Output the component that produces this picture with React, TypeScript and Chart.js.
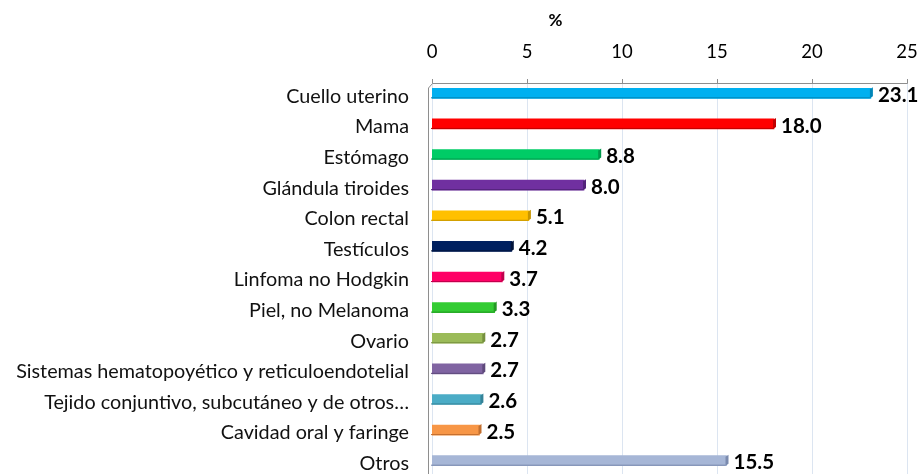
import React, { useEffect, useRef } from "react";
import { Chart, registerables } from "chart.js";

Chart.register(...registerables);

const categories = [
  "Cuello uterino",
  "Mama",
  "Estómago",
  "Glándula tiroides",
  "Colon rectal",
  "Testículos",
  "Linfoma no Hodgkin",
  "Piel, no Melanoma",
  "Ovario",
  "Sistemas hematopoyético y reticuloendotelial",
  "Tejido conjuntivo, subcutáneo y de otros…",
  "Cavidad oral y faringe",
  "Otros",
];

const values = [23.1, 18.0, 8.8, 8.0, 5.1, 4.2, 3.7, 3.3, 2.7, 2.7, 2.6, 2.5, 15.5];

const barColors = [
  "#00B0F0",
  "#FF0000",
  "#00CC66",
  "#7030A0",
  "#FFC000",
  "#002060",
  "#FF0066",
  "#33CC33",
  "#9BBB59",
  "#8064A2",
  "#4BACC6",
  "#F79646",
  "#A6B6D6",
];

const capColors = [
  "#0086B8",
  "#C00000",
  "#00994C",
  "#52237A",
  "#C79600",
  "#00133A",
  "#C0004C",
  "#249924",
  "#76903F",
  "#5F4A7C",
  "#358398",
  "#C26E2E",
  "#7A8AAE",
];

const xMin = 0;
const xMax = 25;
const xStep = 5;
const axisTitle = "%";

const FONT = "Lato, 'Open Sans', sans-serif";

const decorPlugin = {
  id: "decor",
  beforeDatasetsDraw(chart: any) {
    const { ctx, chartArea } = chart;
    const xs = chart.scales.x;
    const axisY = chartArea.top + 5;
    ctx.save();
    // gridlines
    ctx.strokeStyle = "#DCE5F1";
    ctx.lineWidth = 1;
    for (let v = xMin; v <= xMax; v += xStep) {
      const px = Math.round(xs.getPixelForValue(v)) + 0.5;
      ctx.beginPath();
      ctx.moveTo(px, axisY);
      ctx.lineTo(px, chartArea.bottom);
      ctx.stroke();
    }
    // axis line + ticks
    ctx.strokeStyle = "#8E8E8E";
    ctx.beginPath();
    const x0 = Math.round(xs.getPixelForValue(xMin)) + 0.5;
    const x1 = Math.round(xs.getPixelForValue(xMax)) + 0.5;
    ctx.moveTo(x0, axisY + 0.5);
    ctx.lineTo(x1, axisY + 0.5);
    for (let v = xMin; v <= xMax; v += xStep) {
      const px = Math.round(xs.getPixelForValue(v)) + 0.5;
      ctx.moveTo(px, axisY - 4);
      ctx.lineTo(px, axisY + 0.5);
    }
    // left wall
    const lx = x0 - 4;
    ctx.moveTo(x0, axisY + 0.5);
    ctx.lineTo(lx, axisY + 5);
    ctx.lineTo(lx, chartArea.bottom);
    ctx.stroke();
    ctx.restore();
  },
  afterDatasetsDraw(chart: any) {
    const { ctx } = chart;
    const meta = chart.getDatasetMeta(0);
    ctx.save();
    meta.data.forEach((bar: any, i: number) => {
      const h = bar.height;
      const top = bar.y - h / 2;
      const bottom = bar.y + h / 2;
      const x = bar.x;
      // 3D end cap
      ctx.fillStyle = capColors[i];
      ctx.beginPath();
      ctx.moveTo(x - 1, top + 1);
      ctx.lineTo(x + 2, top - 1);
      ctx.lineTo(x + 2, bottom - 2);
      ctx.lineTo(x - 1, bottom);
      ctx.closePath();
      ctx.fill();
      // bottom shade
      ctx.fillRect(bar.base - 1, bottom - 1, x - bar.base, 1);
      // value label
      ctx.fillStyle = "#000";
      ctx.font = `bold 20.5px ${FONT}`;
      ctx.textAlign = "left";
      ctx.textBaseline = "middle";
      ctx.fillText(values[i].toFixed(1), x + 7, bar.y + 2);
    });
    ctx.restore();
  },
  afterDraw(chart: any) {
    const { ctx } = chart;
    const xs = chart.scales.x;
    ctx.save();
    ctx.fillStyle = "#000";
    ctx.font = `bold 17px ${FONT}`;
    ctx.textAlign = "center";
    ctx.textBaseline = "middle";
    ctx.fillText(axisTitle, xs.getPixelForValue(6.5), 21);
    ctx.restore();
  },
};

function zeroPadding(scale: any) {
  scale.paddingLeft = 0;
  scale.paddingRight = 0;
  scale.paddingTop = 0;
  scale.paddingBottom = 0;
}

export default function App() {
  const ref = useRef<HTMLCanvasElement>(null);
  useEffect(() => {
    if (!ref.current) return;
    const chart = new Chart(ref.current, {
      type: "bar",
      data: {
        labels: categories,
        datasets: [
          {
            data: values,
            backgroundColor: barColors,
            barThickness: 10,
            borderWidth: 0,
          },
        ],
      },
      options: {
        indexAxis: "y",
        responsive: false,
        animation: false,
        layout: { padding: { left: 0, top: 0, right: 16, bottom: 14 } },
        plugins: {
          legend: { display: false },
          tooltip: { enabled: false },
        },
        scales: {
          x: {
            position: "top",
            min: xMin,
            max: xMax,
            ticks: {
              stepSize: xStep,
              color: "#000",
              font: { family: FONT, size: 18.5 },
              padding: 15,
            },
            grid: { display: false, drawTicks: false },
            border: { display: false },
            afterFit(scale: any) {
              scale.height = 78;
              zeroPadding(scale);
            },
          },
          y: {
            position: "left",
            ticks: {
              color: "#111",
              font: { family: FONT, size: 19.8 },
              padding: 23,
              labelOffset: 3,
              autoSkip: false,
            },
            grid: { display: false, drawTicks: false },
            border: { display: false },
            afterFit(scale: any) {
              scale.width = 432;
              zeroPadding(scale);
            },
          },
        },
      },
      plugins: [decorPlugin],
    } as any);
    return () => chart.destroy();
  }, []);
  return (
    <div
      style={{
        position: "absolute",
        left: 0,
        top: 0,
        width: 923,
        height: 474,
        overflow: "hidden",
        background: "#fff",
      }}
    >
      <canvas ref={ref} width={923} height={490} style={{ display: "block" }} />
    </div>
  );
}
